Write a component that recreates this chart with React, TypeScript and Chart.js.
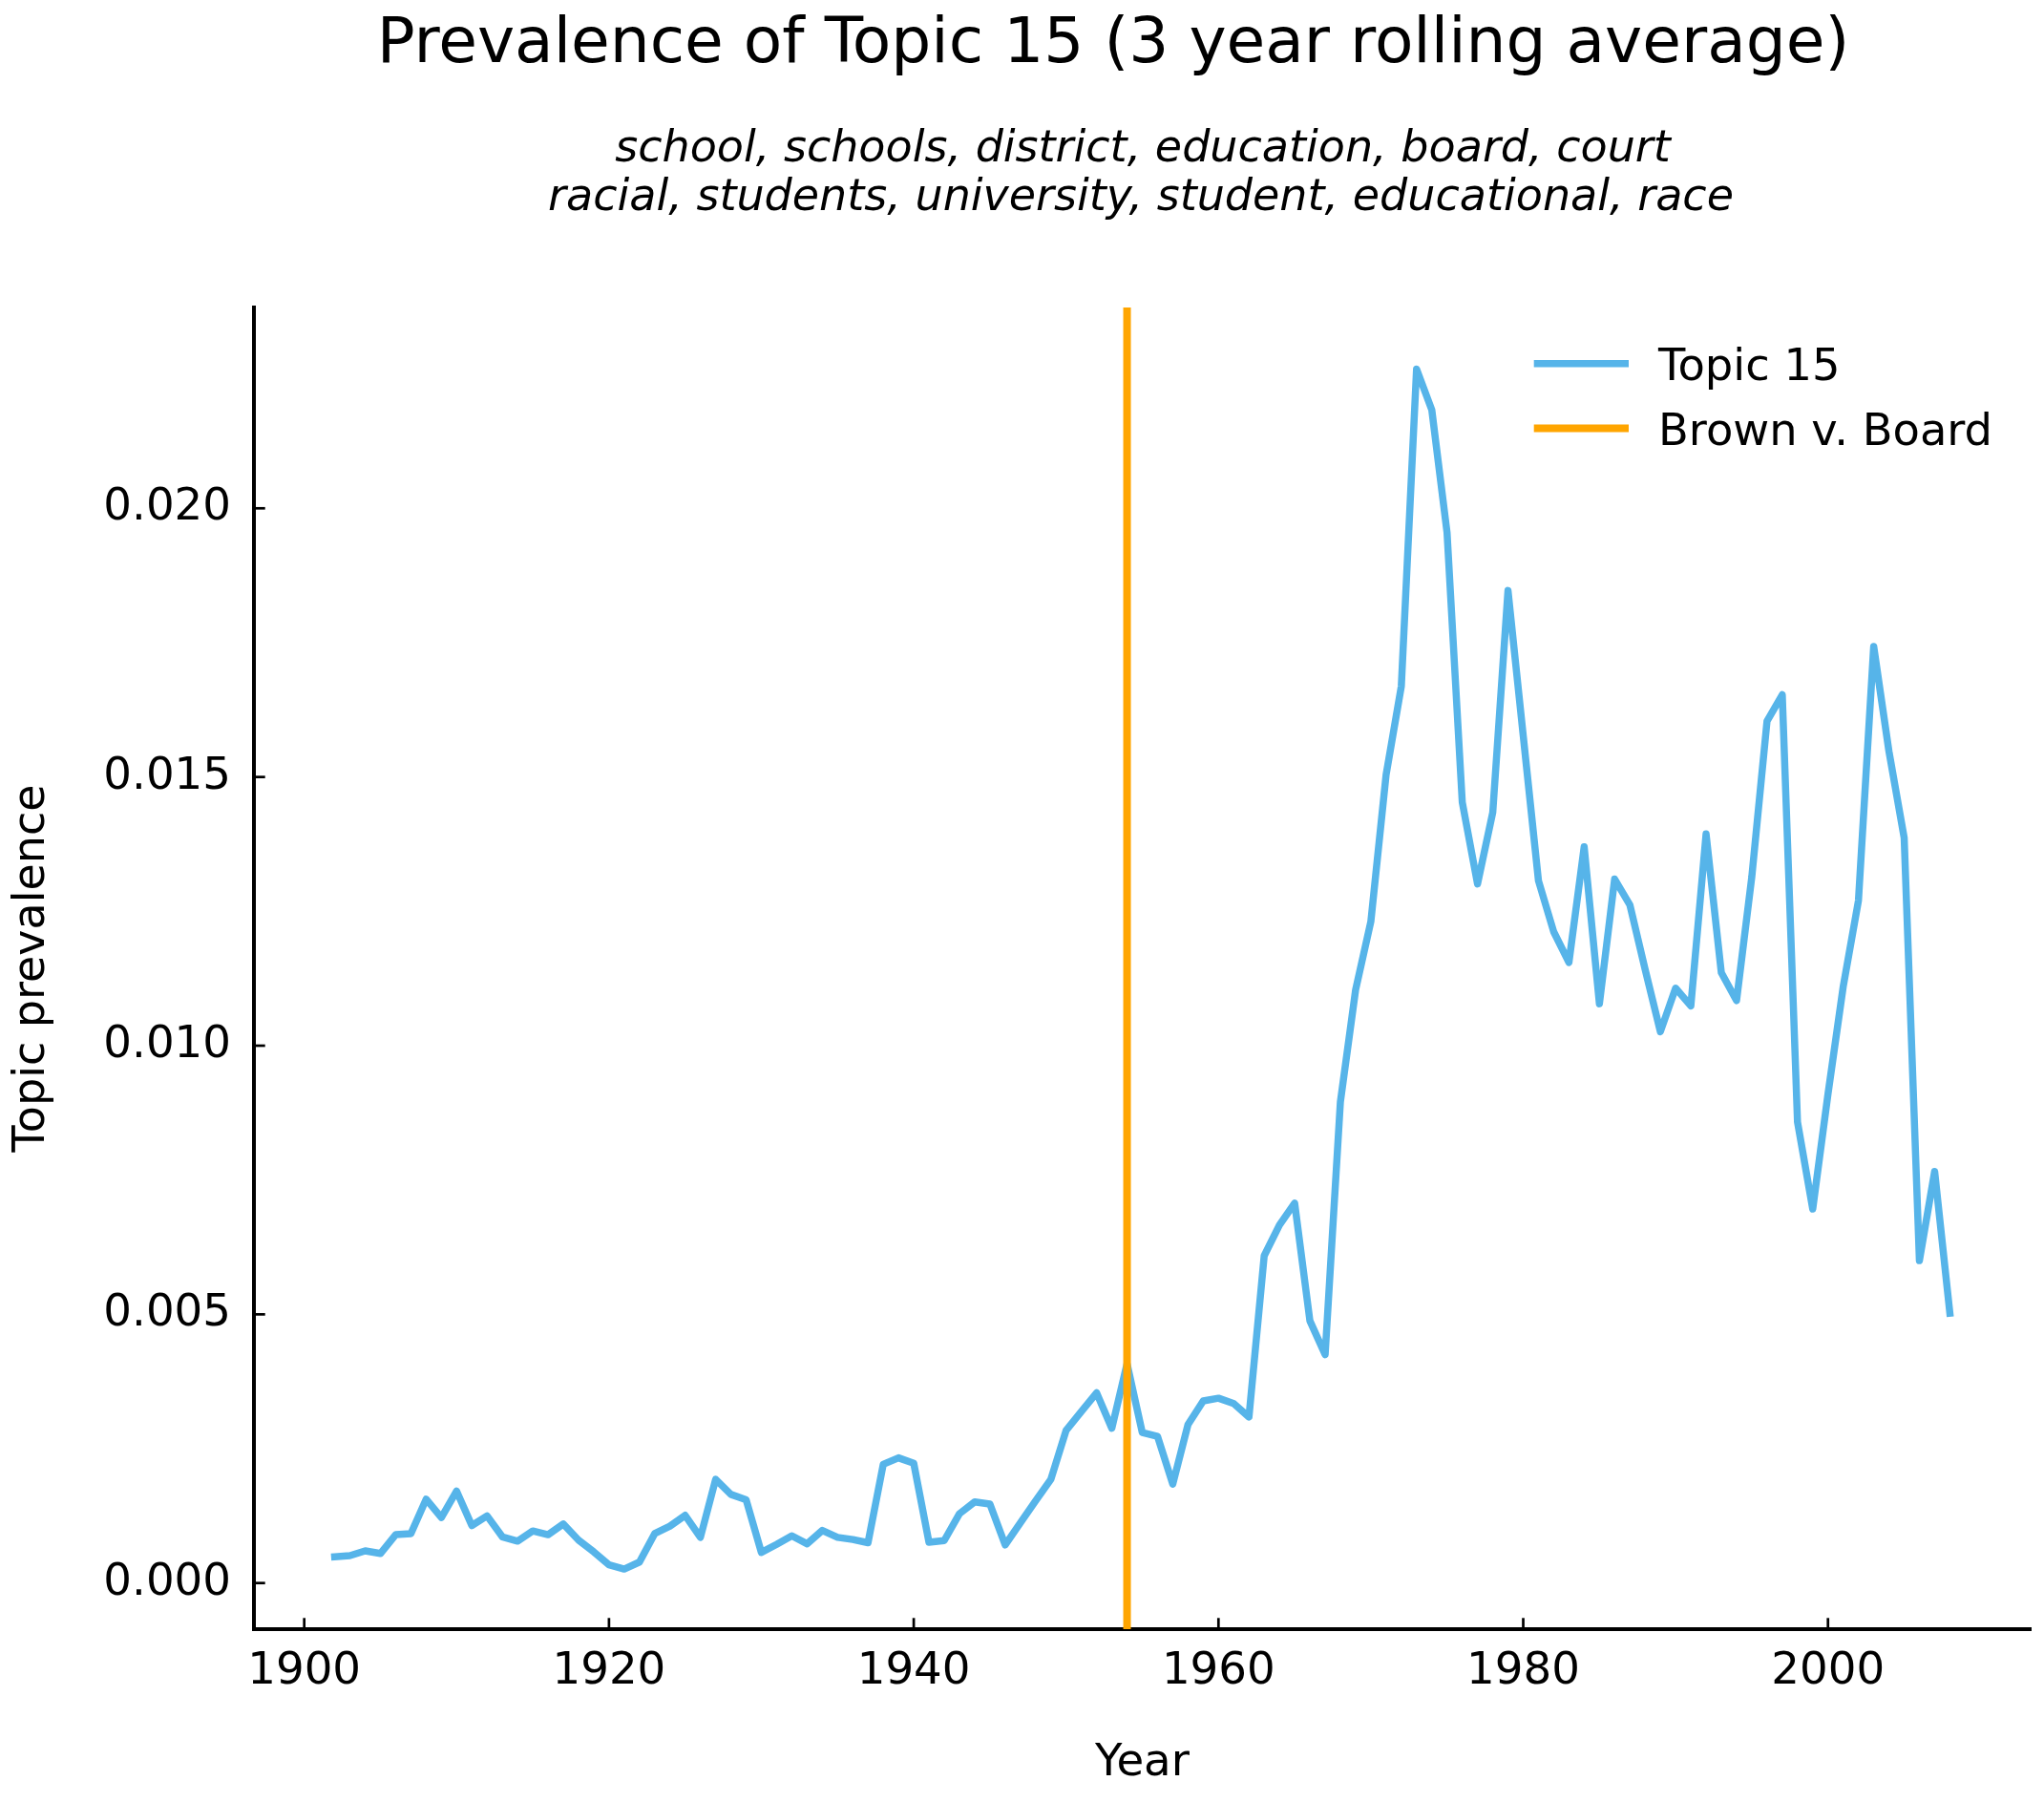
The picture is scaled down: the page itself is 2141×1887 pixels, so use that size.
import React, { useEffect, useRef } from 'react';
import { Chart, registerables } from 'chart.js';

Chart.register(...registerables);

// ---------- data ----------
const years = [
  1902, 1903, 1904, 1905, 1906, 1907, 1908, 1909, 1910, 1911,
  1912, 1913, 1914, 1915, 1916, 1917, 1918, 1919, 1920, 1921,
  1922, 1923, 1924, 1925, 1926, 1927, 1928, 1929, 1930, 1931,
  1932, 1933, 1934, 1935, 1936, 1937, 1938, 1939, 1940, 1941,
  1942, 1943, 1944, 1945, 1946, 1947, 1948, 1949, 1950, 1951,
  1952, 1953, 1954, 1955, 1956, 1957, 1958, 1959, 1960, 1961,
  1962, 1963, 1964, 1965, 1966, 1967, 1968, 1969, 1970, 1971,
  1972, 1973, 1974, 1975, 1976, 1977, 1978, 1979, 1980, 1981,
  1982, 1983, 1984, 1985, 1986, 1987, 1988, 1989, 1990, 1991,
  1992, 1993, 1994, 1995, 1996, 1997, 1998, 1999, 2000, 2001,
  2002, 2003, 2004, 2005, 2006, 2007, 2008,
];

const topicPrevalence = [
  0.00049, 0.00051, 0.00060, 0.00055, 0.00090, 0.00092, 0.00156, 0.00122, 0.00171, 0.00107,
  0.00125, 0.00086, 0.00078, 0.00097, 0.00090, 0.00110, 0.00080, 0.00058, 0.00034, 0.00026,
  0.00039, 0.00092, 0.00106, 0.00126, 0.00085, 0.00193, 0.00165, 0.00155, 0.00057, 0.00072,
  0.00088, 0.00073, 0.00098, 0.00085, 0.00081, 0.00075, 0.00221, 0.00233, 0.00223, 0.00076,
  0.00079, 0.00129, 0.00151, 0.00147, 0.00071, 0.00112, 0.00153, 0.00193, 0.00284, 0.00319,
  0.00354, 0.00288, 0.00408, 0.00280, 0.00273, 0.00184, 0.00295, 0.00339, 0.00344, 0.00334,
  0.00309, 0.00609, 0.00666, 0.00707, 0.00488, 0.00425, 0.00895, 0.01104, 0.01231, 0.01504,
  0.01669, 0.02259, 0.02183, 0.01955, 0.01453, 0.01301, 0.01434, 0.01847, 0.01577, 0.01307,
  0.01212, 0.01155, 0.01370, 0.01078, 0.01310, 0.01262, 0.01142, 0.01026, 0.01107, 0.01074,
  0.01394, 0.01136, 0.01084, 0.01314, 0.01604, 0.01653, 0.00858, 0.00696, 0.00910, 0.01110,
  0.01270, 0.01743, 0.01548, 0.01387, 0.00600, 0.00766, 0.00502,
];

const brownYear = 1954;

const xTicks = [1900, 1920, 1940, 1960, 1980, 2000];
const yTicks = [0, 0.005, 0.01, 0.015, 0.02];
const xLimits = [1896.7, 2013.3];
const yLimits = [-0.000858, 0.023737];

const titleText = 'Prevalence of Topic 15 (3 year rolling average)';
const subtitleLines = [
  'school, schools, district, education, board, court',
  'racial, students, university, student, educational, race',
];
const seriesLabel = 'Topic 15';
const eventLabel = 'Brown v. Board';
const xAxisTitle = 'Year';
const yAxisTitle = 'Topic prevalence';

// ---------- styles ----------
const FONT = "'DejaVu Sans'";
const BLUE = '#56B4E9';
const ORANGE = '#FFA500';
const W = 2141;
const H = 1887;

const decorPlugin = {
  id: 'decor',
  afterDraw(chart: any) {
    const ctx = chart.ctx as CanvasRenderingContext2D;
    const { left, bottom } = chart.chartArea;
    const xs = chart.scales.x;
    const ys = chart.scales.y;
    ctx.save();
    // inward tick marks
    ctx.strokeStyle = '#000';
    ctx.lineWidth = 2.7;
    ctx.lineCap = 'butt';
    xTicks.forEach((v) => {
      const px = xs.getPixelForValue(v);
      ctx.beginPath();
      ctx.moveTo(px, bottom);
      ctx.lineTo(px, bottom - 11.7);
      ctx.stroke();
    });
    yTicks.forEach((v) => {
      const py = ys.getPixelForValue(v);
      ctx.beginPath();
      ctx.moveTo(left, py);
      ctx.lineTo(left + 11.7, py);
      ctx.stroke();
    });

    // title + subtitle
    ctx.fillStyle = '#000';
    ctx.textAlign = 'center';
    ctx.textBaseline = 'alphabetic';
    ctx.font = `66.2px ${FONT}`;
    ctx.fillText(titleText, 1166, 65);
    ctx.font = `italic 46px ${FONT}`;
    ctx.fillText(subtitleLines[0], 1197, 169);
    ctx.fillText(subtitleLines[1], 1195, 220);

    // legend
    ctx.textAlign = 'left';
    ctx.font = `46.4px ${FONT}`;
    chart.data.datasets.forEach((ds: any, i: number) => {
      const y = 380.7 + i * 67.9;
      ctx.strokeStyle = ds.borderColor;
      ctx.lineWidth = ds.borderWidth;
      ctx.lineCap = 'butt';
      ctx.beginPath();
      ctx.moveTo(1606.7, y);
      ctx.lineTo(1706, y);
      ctx.stroke();
      ctx.fillStyle = '#000';
      ctx.fillText(ds.label, 1737, y + 17);
    });
    ctx.restore();
  },
};

export default function App() {
  const canvasRef = useRef<HTMLCanvasElement | null>(null);

  useEffect(() => {
    document.body.style.margin = '0';
    document.body.style.overflow = 'hidden';
    const canvas = canvasRef.current;
    if (!canvas) return;

    const topicPoints = years.map((yr, i) => ({ x: yr, y: topicPrevalence[i] }));
    const eventPoints = [
      { x: brownYear, y: yLimits[0] },
      { x: brownYear, y: yLimits[1] },
    ];

    const chart = new Chart(canvas, {
      type: 'line',
      data: {
        datasets: [
          {
            label: seriesLabel,
            data: topicPoints,
            borderColor: BLUE,
            backgroundColor: BLUE,
            borderWidth: 7.5,
            pointRadius: 0,
            tension: 0,
            fill: false,
            borderJoinStyle: 'round',
            borderCapStyle: 'square',
            order: 1,
          },
          {
            label: eventLabel,
            data: eventPoints,
            borderColor: ORANGE,
            backgroundColor: ORANGE,
            borderWidth: 8,
            pointRadius: 0,
            tension: 0,
            fill: false,
            borderCapStyle: 'butt',
            order: 0,
          },
        ],
      },
      options: {
        animation: false,
        responsive: false,
        maintainAspectRatio: false,
        events: [],
        layout: { padding: { top: 322, right: 14, left: 0, bottom: 0 } },
        plugins: {
          legend: { display: false },
          title: { display: false },
          tooltip: { enabled: false },
        },
        scales: {
          x: {
            type: 'linear',
            min: xLimits[0],
            max: xLimits[1],
            afterBuildTicks: (s: any) => {
              s.ticks = xTicks.map((v) => ({ value: v }));
            },
            afterFit: (s: any) => {
              s.height = H - 1706;
            },
            grid: { display: true, drawOnChartArea: false, drawTicks: false },
            border: { display: true, color: '#000', width: 4 },
            ticks: {
              color: '#000',
              font: { family: FONT, size: 46.7 },
              padding: 17,
              maxRotation: 0,
              autoSkip: false,
              callback: (v: any) => String(v),
            },
            title: {
              display: true,
              text: xAxisTitle,
              color: '#000',
              font: { family: FONT, size: 46.7 },
              padding: { top: 0, bottom: 12.3 },
            },
          },
          y: {
            type: 'linear',
            min: yLimits[0],
            max: yLimits[1],
            afterBuildTicks: (s: any) => {
              s.ticks = yTicks.map((v) => ({ value: v }));
            },
            afterFit: (s: any) => {
              s.width = 266;
            },
            grid: { display: true, drawOnChartArea: false, drawTicks: false },
            border: { display: true, color: '#000', width: 4 },
            ticks: {
              color: '#000',
              font: { family: FONT, size: 46.7 },
              padding: 24,
              autoSkip: false,
              callback: (v: any) => Number(v).toFixed(3),
            },
            title: {
              display: true,
              text: yAxisTitle,
              color: '#000',
              font: { family: FONT, size: 46 },
              padding: { top: 6, bottom: 0 },
            },
          },
        },
      },
      plugins: [decorPlugin],
    } as any);

    return () => {
      chart.destroy();
    };
  }, []);

  return (
    <div style={{ position: 'absolute', left: 0, top: 0, width: W, height: H, background: '#fff' }}>
      <canvas ref={canvasRef} width={W} height={H} style={{ width: W, height: H, display: 'block' }} />
    </div>
  );
}
